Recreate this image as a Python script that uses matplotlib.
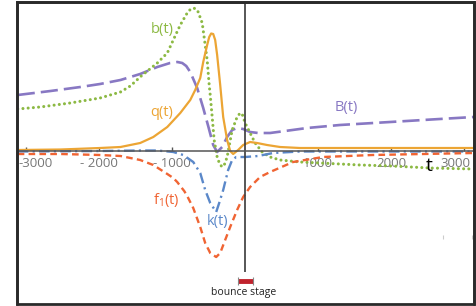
import matplotlib
matplotlib.use('Agg')
import matplotlib.pyplot as plt
from matplotlib.patches import Rectangle
from matplotlib.transforms import ScaledTranslation

plt.rcParams['font.family'] = ['Open Sans', 'DejaVu Sans']
plt.rcParams['mathtext.fontset'] = 'custom'
plt.rcParams['mathtext.rm'] = 'Open Sans'
plt.rcParams['mathtext.it'] = 'Open Sans'

t_b = [-3120, -2810, -2400, -1990, -1710, -1575, -1425, -1205, -1068, -986, -890, -795,
       -753, -712, -671, -644, -589, -548, -521, -493, -479, -452, -425, -384, -349, -315,
       -281, -247, -178, -110, -68, -41, 0, 68, 137, 233, 342, 479, 753, 1027, 1575, 2010,
       2534, 3137]
b_val = [42, 44, 48, 53, 59, 65, 75, 88, 98, 111, 126, 138,
         141.5, 143, 142, 139, 128, 106, 91, 66, 56, 34, 11, -6, -13, -16,
         -13, -6, 21, 34, 38, 37, 28, 18, 8, -1, -6, -9, -11, -12, -14, -15,
         -17, -18]

t_B = [-3120, -2670, -2260, -1990, -1710, -1440, -1205, -1030, -930, -863, -808, -753,
       -658, -575, -507, -438, -384, -315, -247, -178, -110, -27, 68, 178, 342, 548, 850,
       1300, 1990, 2670, 3137]
B_val = [56, 60, 64, 67, 71, 77, 84, 88, 89, 88, 85, 79,
         63, 43, 25, 6, -1, 4, 14, 21, 23, 22, 19, 18, 18, 20, 23,
         26, 29, 32, 34]

t_q = [-3120, -2530, -1990, -1710, -1440, -1260, -1068, -890, -753, -685, -616, -575,
       -521, -493, -466, -438, -411, -384, -342, -301, -247, -205, -164, -96, -27, 68,
       164, 301, 479, 753, 3137]
q_val = [1, 1.5, 3, 4, 8, 14, 24, 38, 51, 61, 73, 89,
         106, 114, 117.5, 117, 111, 96, 66, 34, 11, 0, -3, 1, 6, 9,
         8, 6, 4, 3, 3]

t_k = [-3120, -1990, -1440, -1205, -986, -849, -712, -616, -548, -479, -397, -356,
       -301, -233, -178, -123, 0, 178, 384, 753, 3137]
k_val = [-0.5, 0, 0.5, 0.5, -1, -4, -11, -22, -39, -52, -61, -52,
         -39, -19, -9, -6, -6, -5, -2, -0.5, -0.5]

t_f = [-3120, -2530, -1990, -1710, -1440, -1260, -1068, -986, -932, -890, -836, -795,
       -712, -616, -548, -479, -397, -342, -274, -205, -110, -27, 68, 205, 342, 658,
       1068, 1750, 3137]
f_val = [-3, -3, -4, -5, -9, -14, -23, -27, -31, -35, -40, -45,
         -57, -76, -92, -102, -106, -102, -89, -76, -59, -46, -36, -26, -21, -11,
         -6, -4, -2]

ticks = [-3000, -2000, -1000, 1000, 2000, 3000]
tick_labels = ['-3000', '- 2000', '- 1000', '1000', '2000', '3000']

c_b = '#8cb943'
c_B = '#8878c3'
c_q = '#eca534'
c_k = '#5b88c9'
c_f = '#f06433'

fig = plt.figure(figsize=(4.77, 3.06), dpi=100)
ax = fig.add_axes([17 / 477, 2 / 306, 457 / 477, 302 / 306])

ax.plot(t_B, B_val, color=c_B, lw=1.9, linestyle=(0, (6.5, 2.3)))
ax.plot(t_b, b_val, color=c_b, lw=2.2, linestyle=(0, (0.01, 1.7)), dash_capstyle='round')
ax.plot(t_q, q_val, color=c_q, lw=1.6)
ax.plot(t_k, k_val, color=c_k, lw=1.7, linestyle=(0, (4.5, 1.8, 0.9, 1.8)))
ax.plot(t_f, f_val, color=c_f, lw=1.7, linestyle=(0, (2.8, 1.8)))

ax.set_xlim(-3130, 3140)
ax.set_ylim(-153, 149)
ax.set_yticks([])

# x-Achse durch Null
ax.spines['bottom'].set_position(('data', 0))
ax.spines['bottom'].set_color('#555555')
ax.spines['bottom'].set_linewidth(1.1)
for s in ['top', 'left', 'right']:
    ax.spines[s].set_color('#2a2a2a')
    ax.spines[s].set_linewidth(1.8)
ax.add_patch(Rectangle((0, 0), 1, 1, transform=ax.transAxes, fill=False,
                       edgecolor='#2a2a2a', lw=2, clip_on=False, zorder=5))

ax.set_xticks(ticks)
ax.set_xticklabels(tick_labels)
ax.tick_params(axis='x', direction='in', length=3, width=1, color='#555555',
               labelcolor='#777777', labelsize=9.5, pad=4)
labs = ax.get_xticklabels()
labs[0].set_transform(labs[0].get_transform() + ScaledTranslation(9 / 100, 0, fig.dpi_scale_trans))
labs[-1].set_transform(labs[-1].get_transform() + ScaledTranslation(-8 / 100, 0, fig.dpi_scale_trans))

# senkrechte Linie bei t = 0
ax.vlines(0, -121, 149, color='#3a3a3a', lw=1.2)

ax.text(-1137, 121, 'b(t)', color=c_b, fontsize=10.5, ha='center', va='center')
ax.text(-1150, 38, 'q(t)', color=c_q, fontsize=10.5, ha='center', va='center')
ax.text(1384, 43, 'B(t)', color=c_B, fontsize=10.5, ha='center', va='center')
ax.text(-1082, -49, r'f$_{\mathrm{1}}$(t)', color=c_f, fontsize=10.5, ha='center', va='center')
ax.text(-384, -71, 'k(t)', color=c_k, fontsize=10.5, ha='center', va='center')
ax.text(2520, -15, 't', color='black', fontsize=14, ha='center', va='center')

# bounce stage
ax.plot([-96, 110], [-130, -130], color='#c0222c', lw=3.5, solid_capstyle='butt')
ax.vlines([-96, 110], -134, -126, color='#888888', lw=0.8)
ax.text(-14, -142, 'bounce stage', color='#222222', fontsize=7.5, ha='center', va='center')

ax.vlines([2712, 3110], -88, -84, color='#cccccc', lw=0.8)

fig.savefig('out.png', dpi=100)
